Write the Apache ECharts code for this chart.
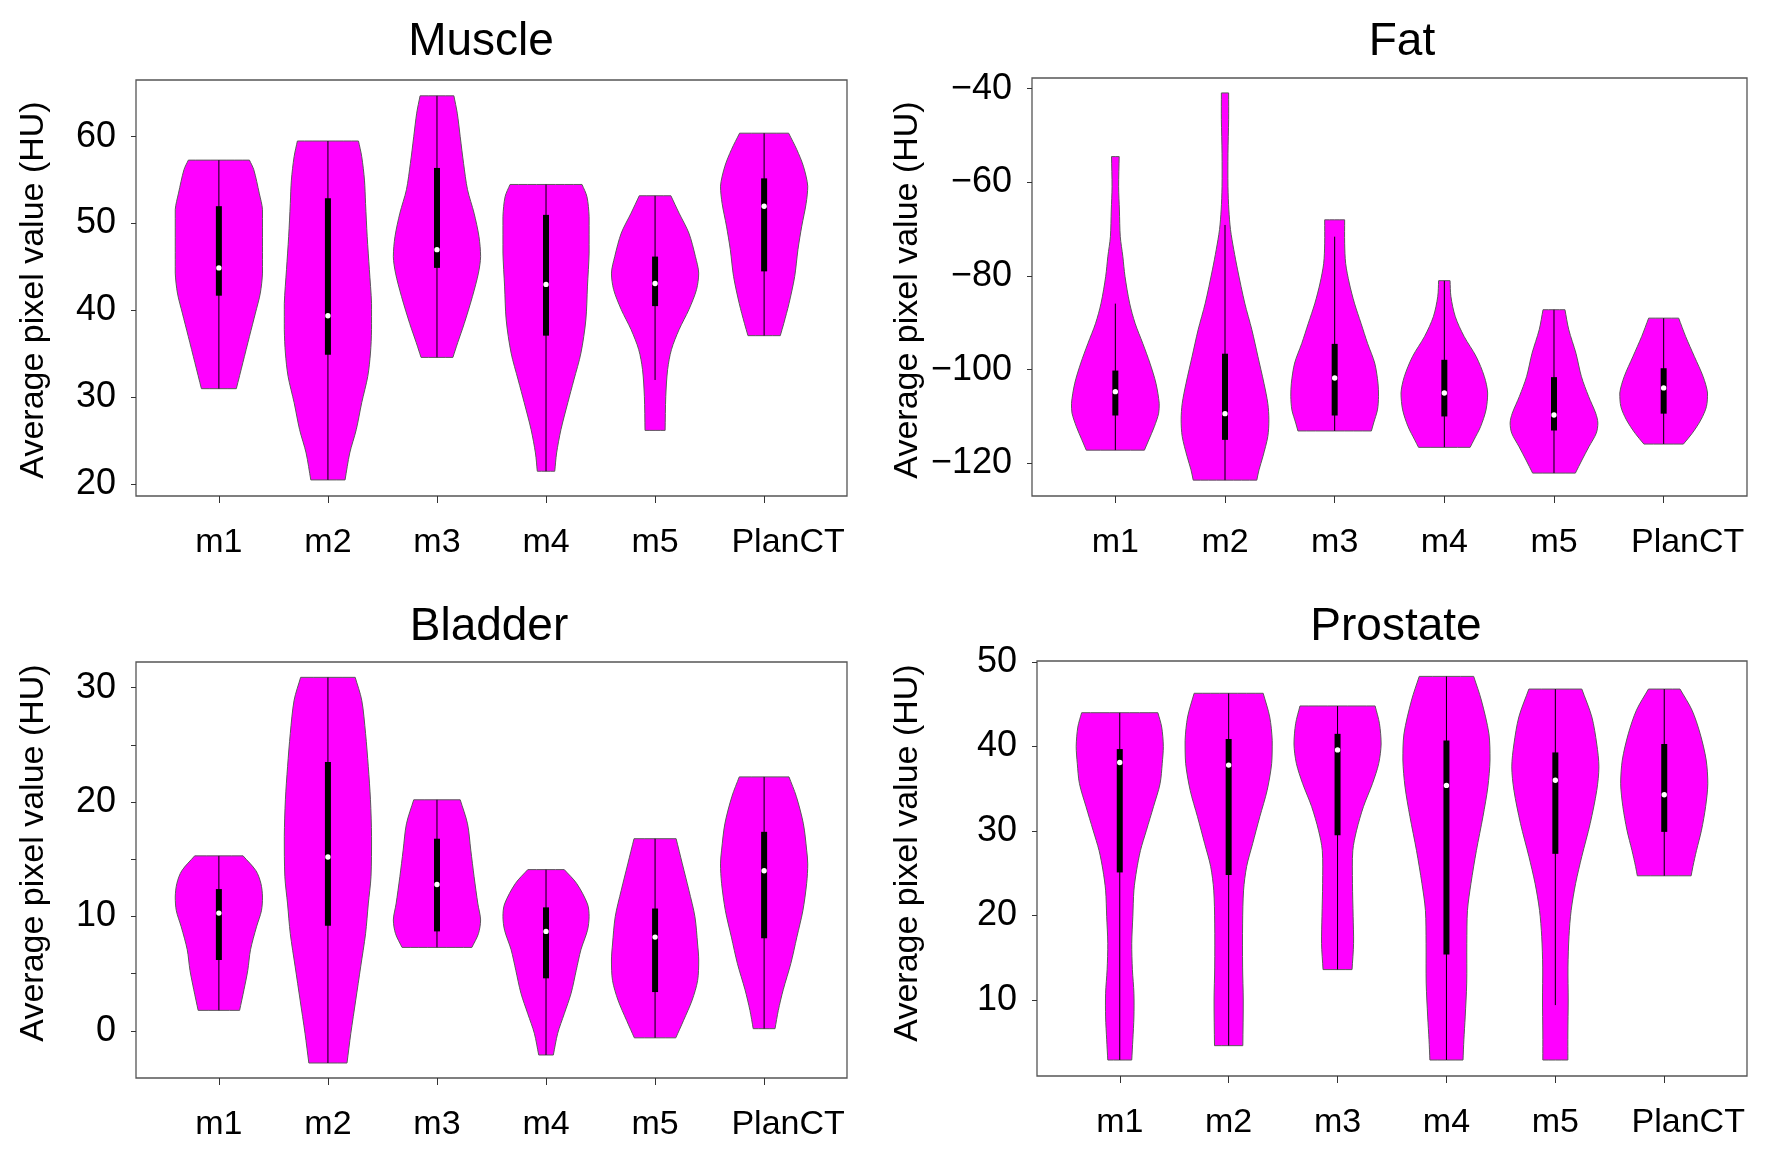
<!DOCTYPE html>
<html>
<head>
<meta charset="utf-8">
<title>Average pixel value by organ</title>
<script src="https://cdn.jsdelivr.net/npm/echarts@6/dist/echarts.min.js"></script>
<style>
html, body { margin: 0; padding: 0; background: #fff; }
#chart { width: 1780px; height: 1157px; }
</style>
</head>
<body>
<div id="chart"></div>
<script>
const categories = ['m1', 'm2', 'm3', 'm4', 'm5', 'PlanCT'];

// violin outlines are [value, half width in category units], read top to bottom

// Muscle
const muscleTicks = [20, 30, 40, 50, 60];
const muscleQ1 = [41.7, 34.9, 44.9, 37.1, 40.5, 44.5];
const muscleMedian = [44.9, 39.4, 47.0, 43.0, 43.1, 52.0];
const muscleQ3 = [52.0, 52.9, 56.4, 51.0, 46.2, 55.2];
const muscleWhiskerLow = [31.0, 20.5, 34.6, 21.5, 32.0, 37.1];
const muscleWhiskerHigh = [57.3, 59.5, 64.7, 54.5, 53.2, 60.4];
const muscleOutline = [
  [[57.3, 0.28], [56.2, 0.32], [53.5, 0.37], [51.6, 0.40], [47.4, 0.40], [44.3, 0.40], [42.0, 0.38], [39.7, 0.335], [37.0, 0.28], [34.0, 0.22], [31.0, 0.16]],
  [[59.5, 0.28], [57.7, 0.31], [55.0, 0.335], [52.3, 0.345], [48.5, 0.36], [44.7, 0.38], [40.8, 0.40], [37.8, 0.40], [35.1, 0.39], [32.4, 0.365], [29.4, 0.31], [26.3, 0.26], [23.6, 0.20], [20.5, 0.157]],
  [[64.7, 0.155], [62.7, 0.186], [60.0, 0.213], [56.9, 0.244], [53.9, 0.28], [51.2, 0.34], [48.5, 0.385], [46.2, 0.40], [44.3, 0.38], [41.6, 0.325], [38.5, 0.25], [36.3, 0.19], [34.6, 0.146]],
  [[54.5, 0.33], [53.1, 0.375], [50.8, 0.395], [46.6, 0.395], [42.8, 0.38], [38.9, 0.365], [35.1, 0.32], [32.0, 0.255], [29.4, 0.20], [26.3, 0.137], [23.6, 0.097], [21.5, 0.08]],
  [[53.2, 0.145], [51.2, 0.22], [48.9, 0.31], [46.2, 0.37], [44.3, 0.40], [42.4, 0.38], [40.1, 0.31], [37.8, 0.22], [35.5, 0.15], [33.2, 0.115], [30.1, 0.098], [26.2, 0.092]],
  [[60.4, 0.225], [58.5, 0.30], [56.6, 0.36], [54.3, 0.40], [52.3, 0.385], [49.7, 0.345], [47.0, 0.31], [43.9, 0.28], [40.8, 0.228], [38.5, 0.18], [37.1, 0.148]]
];

// Fat
const fatTicks = [-120, -100, -80, -60, -40];
const fatQ1 = [-109.8, -115.0, -109.8, -110.0, -113.0, -109.4];
const fatMedian = [-104.7, -109.4, -101.8, -105.0, -109.7, -103.9];
const fatQ3 = [-100.2, -96.6, -94.5, -97.9, -101.6, -99.7];
const fatWhiskerLow = [-117.2, -123.6, -113.1, -116.6, -122.1, -115.9];
const fatWhiskerHigh = [-85.9, -69.1, -71.6, -81.0, -87.2, -89.0];
const fatOutline = [
  [[-54.5, 0.035], [-60.9, 0.03], [-65.9, 0.037], [-71.6, 0.045], [-75.8, 0.068], [-80.1, 0.088], [-85.8, 0.13], [-90.1, 0.18], [-94.4, 0.25], [-98.6, 0.315], [-102.9, 0.37], [-107.2, 0.40], [-109.3, 0.395], [-112.2, 0.355], [-115.0, 0.305], [-117.2, 0.265]],
  [[-40.9, 0.033], [-46.6, 0.033], [-53.8, 0.027], [-60.9, 0.027], [-65.9, 0.035], [-70.1, 0.05], [-74.4, 0.08], [-78.7, 0.115], [-85.8, 0.18], [-91.5, 0.245], [-97.2, 0.30], [-102.9, 0.355], [-107.2, 0.39], [-110.7, 0.40], [-114.3, 0.39], [-118.6, 0.345], [-121.4, 0.31], [-123.6, 0.29]],
  [[-68.0, 0.091], [-73.0, 0.091], [-77.3, 0.10], [-81.5, 0.133], [-85.8, 0.18], [-90.1, 0.24], [-94.4, 0.30], [-98.6, 0.365], [-102.9, 0.395], [-105.7, 0.40], [-108.6, 0.39], [-111.4, 0.355], [-113.1, 0.335]],
  [[-81.0, 0.052], [-84.4, 0.06], [-88.7, 0.10], [-92.9, 0.18], [-97.2, 0.29], [-101.5, 0.365], [-105.0, 0.395], [-108.6, 0.38], [-112.2, 0.33], [-115.0, 0.27], [-116.6, 0.235]],
  [[-87.2, 0.10], [-91.5, 0.135], [-96.5, 0.20], [-101.5, 0.25], [-105.7, 0.315], [-109.3, 0.38], [-111.4, 0.40], [-113.6, 0.385], [-116.4, 0.32], [-119.3, 0.255], [-122.1, 0.195]],
  [[-89.0, 0.137], [-92.9, 0.20], [-97.2, 0.28], [-101.5, 0.36], [-105.0, 0.40], [-107.9, 0.39], [-110.7, 0.34], [-113.6, 0.26], [-115.9, 0.18]]
];

// Bladder
const bladderTicks = [0, 5, 10, 15, 20, 25, 30];
const bladderLabels = [0, 10, 20, 30];
const bladderQ1 = [6.2, 9.2, 8.7, 4.6, 3.4, 8.1];
const bladderMedian = [10.3, 15.2, 12.8, 8.7, 8.2, 14.0];
const bladderQ3 = [12.4, 23.5, 16.8, 10.8, 10.7, 17.4];
const bladderWhiskerLow = [1.8, -2.8, 7.3, -2.1, -0.6, 0.2];
const bladderWhiskerHigh = [15.3, 30.9, 20.2, 14.1, 16.8, 22.2];
const bladderOutline = [
  [[15.3, 0.222], [14.0, 0.34], [12.9, 0.385], [11.7, 0.40], [10.5, 0.39], [9.1, 0.345], [7.1, 0.29], [5.3, 0.265], [3.6, 0.23], [1.8, 0.19]],
  [[30.9, 0.25], [28.9, 0.31], [26.0, 0.345], [23.1, 0.37], [20.2, 0.39], [17.0, 0.40], [13.5, 0.395], [11.1, 0.37], [8.5, 0.345], [5.6, 0.30], [2.7, 0.255], [-0.2, 0.21], [-2.8, 0.175]],
  [[20.2, 0.213], [18.1, 0.28], [15.8, 0.31], [13.5, 0.34], [11.1, 0.375], [9.7, 0.40], [8.5, 0.38], [7.3, 0.32]],
  [[14.1, 0.167], [12.9, 0.28], [11.1, 0.38], [10.0, 0.395], [8.8, 0.38], [7.1, 0.32], [5.3, 0.277], [3.3, 0.23], [1.5, 0.167], [-0.2, 0.107], [-2.1, 0.067]],
  [[16.8, 0.193], [14.6, 0.25], [12.3, 0.31], [10.0, 0.365], [7.6, 0.39], [6.2, 0.40], [4.4, 0.39], [2.7, 0.34], [0.9, 0.26], [-0.6, 0.19]],
  [[22.2, 0.228], [20.5, 0.295], [18.1, 0.36], [15.8, 0.39], [14.6, 0.40], [12.9, 0.39], [10.5, 0.355], [8.2, 0.30], [5.9, 0.245], [3.6, 0.175], [1.8, 0.13], [0.2, 0.10]]
];

// Prostate
const prostateTicks = [10, 20, 30, 40, 50];
const prostateQ1 = [25.1, 24.8, 29.5, 15.4, 27.3, 29.9];
const prostateMedian = [38.1, 37.8, 39.6, 35.4, 36.0, 34.3];
const prostateQ3 = [39.7, 40.9, 41.5, 40.7, 39.3, 40.3];
const prostateWhiskerLow = [2.9, 4.6, 13.6, 2.9, 9.4, 24.7];
const prostateWhiskerHigh = [44.0, 46.3, 44.8, 48.3, 46.8, 46.8];
const prostateOutline = [
  [[44.0, 0.35], [42.3, 0.385], [40.0, 0.40], [38.0, 0.39], [35.6, 0.37], [32.9, 0.31], [30.1, 0.245], [27.7, 0.19], [25.4, 0.155], [23.0, 0.13], [19.9, 0.12], [16.7, 0.11], [13.6, 0.116], [10.8, 0.13], [8.0, 0.13], [5.3, 0.12], [2.9, 0.11]],
  [[46.3, 0.317], [43.5, 0.377], [40.7, 0.40], [38.0, 0.395], [34.8, 0.353], [31.7, 0.286], [28.5, 0.22], [25.8, 0.165], [23.0, 0.137], [19.1, 0.128], [13.9, 0.128], [10.0, 0.134], [4.6, 0.13]],
  [[44.8, 0.345], [42.7, 0.385], [40.3, 0.40], [38.0, 0.378], [35.6, 0.32], [32.9, 0.238], [30.1, 0.175], [27.7, 0.14], [23.8, 0.137], [19.9, 0.143], [16.7, 0.147], [13.6, 0.133]],
  [[48.3, 0.25], [45.5, 0.32], [41.5, 0.39], [38.4, 0.40], [35.2, 0.38], [31.7, 0.335], [27.7, 0.275], [23.8, 0.225], [20.6, 0.193], [16.7, 0.187], [12.0, 0.186], [8.0, 0.172], [5.3, 0.16], [2.9, 0.152]],
  [[46.8, 0.243], [43.5, 0.335], [40.3, 0.38], [37.6, 0.40], [34.8, 0.38], [30.9, 0.32], [27.0, 0.243], [23.8, 0.186], [20.6, 0.145], [17.5, 0.125], [13.9, 0.116], [10.0, 0.118], [6.1, 0.115], [2.9, 0.115]],
  [[46.8, 0.145], [44.3, 0.255], [41.5, 0.33], [38.4, 0.385], [35.6, 0.40], [32.9, 0.38], [30.1, 0.342], [27.7, 0.296], [25.8, 0.263], [24.7, 0.247]]
];

const panels = [
  { title: 'Muscle', outline: muscleOutline, q1: muscleQ1, median: muscleMedian, q3: muscleQ3, low: muscleWhiskerLow, high: muscleWhiskerHigh,
    ticks: muscleTicks, labels: muscleTicks, yMin: 18.65, yMax: 66.52,
    grid: { left: 136, top: 80, width: 711, height: 416 }, titleAt: [481, 42], nameAt: [34, 290] },
  { title: 'Fat', outline: fatOutline, q1: fatQ1, median: fatMedian, q3: fatQ3, low: fatWhiskerLow, high: fatWhiskerHigh,
    ticks: fatTicks, labels: fatTicks, yMin: -126.99, yMax: -37.71,
    grid: { left: 1032, top: 78, width: 715, height: 418 }, titleAt: [1402, 42], nameAt: [908, 290] },
  { title: 'Bladder', outline: bladderOutline, q1: bladderQ1, median: bladderMedian, q3: bladderQ3, low: bladderWhiskerLow, high: bladderWhiskerHigh,
    ticks: bladderTicks, labels: bladderLabels, yMin: -4.11, yMax: 32.24,
    grid: { left: 136, top: 662, width: 711, height: 416 }, titleAt: [489, 627], nameAt: [34, 853] },
  { title: 'Prostate', outline: prostateOutline, q1: prostateQ1, median: prostateMedian, q3: prostateQ3, low: prostateWhiskerLow, high: prostateWhiskerHigh,
    ticks: prostateTicks, labels: prostateTicks, yMin: 1.01, yMax: 50.12,
    grid: { left: 1037, top: 661, width: 710, height: 415 }, titleAt: [1396, 627], nameAt: [908, 853] }
];

const sansFont = '"Liberation Sans", Arial, sans-serif';

function makeRenderItem(p) {
  return function (params, api) {
    const i = params.dataIndex;
    const x = api.value(0);
    const shape = p.outline[i];
    const last = shape.length - 1;
    const pts = [];
    // corner points are pushed twice so the flat ends stay sharp after smoothing
    shape.forEach((o, k) => {
      const c = api.coord([x + o[1], o[0]]);
      pts.push(c);
      if (k === 0 || k === last) pts.push(c.slice());
    });
    for (let k = last; k >= 0; k--) {
      const c = api.coord([x - shape[k][1], shape[k][0]]);
      pts.push(c);
      if (k === 0 || k === last) pts.push(c.slice());
    }
    const xs = pts.map(q => q[0]);
    const ys = pts.map(q => q[1]);
    const bounds = [[Math.min(...xs), Math.min(...ys)], [Math.max(...xs), Math.max(...ys)]];
    const lo = api.coord([x, p.low[i]]);
    const hi = api.coord([x, p.high[i]]);
    const top = api.coord([x, p.q3[i]]);
    const bottom = api.coord([x, p.q1[i]]);
    const med = api.coord([x, p.median[i]]);
    return {
      type: 'group',
      children: [
        { type: 'polygon', shape: { points: pts, smooth: 0.3, smoothConstraint: bounds }, style: { fill: '#ff00ff', stroke: '#5a5a5a', lineWidth: 1 } },
        { type: 'line', shape: { x1: lo[0], y1: lo[1], x2: hi[0], y2: hi[1] }, style: { stroke: '#000', lineWidth: 1 } },
        { type: 'rect', shape: { x: top[0] - 3, y: top[1], width: 6, height: bottom[1] - top[1] }, style: { fill: '#000' } },
        { type: 'circle', shape: { cx: med[0], cy: med[1], r: 2.7 }, style: { fill: '#fff' } }
      ]
    };
  };
}

const chart = echarts.init(document.getElementById('chart'), null, { renderer: 'canvas' });

const option = {
  backgroundColor: '#fff',
  animation: false,
  grid: panels.map(p => Object.assign({ show: true, borderColor: '#555', borderWidth: 1.3, backgroundColor: '#fff' }, p.grid)),
  xAxis: panels.map((p, k) => ({
    type: 'value',
    gridIndex: k,
    min: 0.24,
    max: 6.76,
    splitLine: { show: false },
    axisLine: { show: false, onZero: false },
    axisTick: { show: true, customValues: [1, 2, 3, 4, 5, 6], length: 7, lineStyle: { color: '#333', width: 1 } },
    axisLabel: {
      customValues: [1, 2, 3, 4, 5, 6],
      formatter: v => {
        const name = categories[Math.round(v) - 1];
        return name === 'PlanCT' ? '{shift|' + name + '}' : name;
      },
      margin: 30,
      fontSize: 34,
      color: '#000',
      fontFamily: sansFont,
      rich: {
        shift: { fontSize: 34, fontFamily: sansFont, color: '#000', padding: [0, 0, 0, 48] }
      }
    }
  })),
  yAxis: panels.map((p, k) => ({
    type: 'value',
    gridIndex: k,
    min: p.yMin,
    max: p.yMax,
    splitLine: { show: false },
    axisLine: { show: false, onZero: false },
    axisTick: { show: true, customValues: p.ticks, length: 5, lineStyle: { color: '#333', width: 1 } },
    axisLabel: {
      customValues: p.labels,
      formatter: v => String(v).replace('-', '\u2212'),
      margin: 20,
      fontSize: 36,
      color: '#000',
      fontFamily: sansFont
    }
  })),
  series: panels.map((p, k) => ({
    type: 'custom',
    name: p.title,
    xAxisIndex: k,
    yAxisIndex: k,
    clip: false,
    renderItem: makeRenderItem(p),
    encode: { x: 0, y: 1 },
    data: categories.map((c, i) => [i + 1, p.median[i]])
  })),
  graphic: panels.flatMap(p => [
    {
      type: 'text',
      x: p.titleAt[0],
      y: p.titleAt[1],
      style: { text: p.title, font: '46px ' + sansFont, fill: '#000', align: 'center', verticalAlign: 'middle' }
    },
    {
      type: 'text',
      x: p.nameAt[0],
      y: p.nameAt[1],
      rotation: Math.PI / 2,
      style: { text: 'Average pixel value (HU)', font: '34px ' + sansFont, fill: '#000', align: 'center', verticalAlign: 'middle' }
    }
  ])
};

chart.setOption(option);
</script>
</body>
</html>
